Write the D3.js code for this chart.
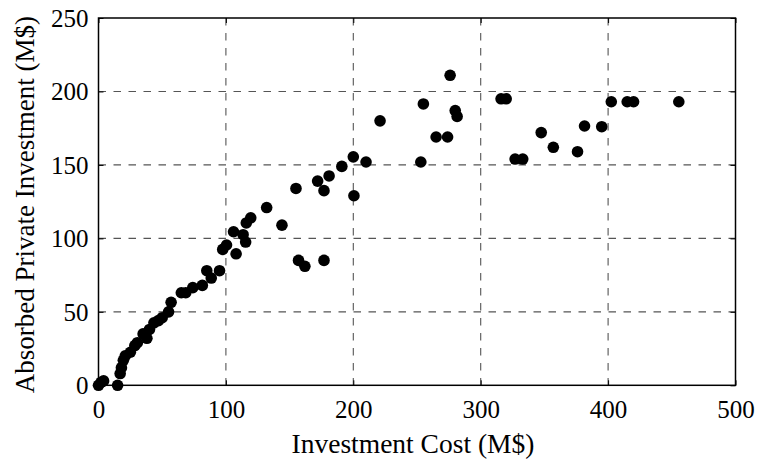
<!DOCTYPE html>
<html>
<head>
<meta charset="utf-8">
<script src="https://cdn.jsdelivr.net/npm/d3@7"></script>
<style>
  html, body { margin: 0; padding: 0; background: #fff; }
  svg { display: block; }
  text { font-family: "Liberation Serif", "Times New Roman", serif; fill: #000; }
</style>
</head>
<body>
<svg id="chart" width="760" height="464"></svg>
<script>
// Investment cost (M$) for each project
const investmentCost = [
  0, 2, 4, 15, 17, 18, 19.5, 21, 25, 28.5, 30.5, 35, 38, 40, 43.5, 47, 50, 55, 57,
  65, 68.5, 74, 81.5, 85, 88.5, 95, 97.5, 100.5, 106, 108, 113.5, 115.5, 116, 119.5,
  132, 144, 155, 157, 162, 177, 172, 177, 181, 191, 200, 200.5, 210, 221,
  253, 255, 265, 274, 276, 280, 281.5, 316, 320, 327, 333, 347.5, 357, 376, 381.5,
  395, 402.5, 415, 420, 455.5
];
// Absorbed private investment (M$) for the same projects
const absorbedInvestment = [
  0, 2, 3, 0, 8, 12, 17, 20, 22.5, 27, 29, 35, 32, 38, 42.5, 44, 46, 50, 56.5,
  63, 63, 66.5, 68, 78, 73, 78, 92.5, 95.5, 104.5, 89.5, 102.5, 97.5, 110.5, 114,
  121, 109, 134, 85, 81, 85, 139, 132.5, 142.5, 149, 155.5, 129, 152, 180,
  152, 191.5, 169, 169, 211, 187, 183, 195, 195, 154, 154, 172, 162, 159, 176.5,
  176, 193, 193, 193, 193
];
const xTicks = [0, 100, 200, 300, 400, 500];
const yTicks = [0, 50, 100, 150, 200, 250];
const xLabel = "Investment Cost (M$)";
const yLabel = "Absorbed Private Investment (M$)";

const points = investmentCost.map((c, i) => ({ x: c, y: absorbedInvestment[i] }));

const svg = d3.select("#chart");
const plot = { left: 98.5, right: 735.5, top: 18, bottom: 385.3 };

const x = d3.scaleLinear().domain([0, 500]).range([plot.left, plot.right]);
const y = d3.scaleLinear().domain([0, 250]).range([plot.bottom, plot.top]);

// Dashed grid
const grid = svg.append("g").attr("stroke", "#555").attr("stroke-width", 1.1)
  .attr("stroke-dasharray", "7.5,7.5").attr("fill", "none");
grid.selectAll("line.v").data(xTicks.filter(t => t > 0 && t < 500)).join("line")
  .attr("x1", d => x(d)).attr("x2", d => x(d))
  .attr("y1", plot.top).attr("y2", plot.bottom);
grid.selectAll("line.h").data(yTicks.filter(t => t > 0 && t < 250)).join("line")
  .attr("x1", plot.left).attr("x2", plot.right)
  .attr("y1", d => y(d)).attr("y2", d => y(d));

// Axes with inward ticks
const xAxis = svg.append("g").attr("transform", `translate(0,${plot.bottom})`)
  .call(d3.axisBottom(x).tickValues(xTicks).tickSize(-5).tickPadding(13.5).tickFormat(d3.format("d")));
const yAxis = svg.append("g").attr("transform", `translate(${plot.left},0)`)
  .call(d3.axisLeft(y).tickValues(yTicks).tickSize(-5).tickPadding(10).tickFormat(d3.format("d")));
svg.append("g").attr("transform", `translate(0,${plot.top})`)
  .call(d3.axisTop(x).tickValues(xTicks).tickSize(-5).tickFormat(""));
svg.append("g").attr("transform", `translate(${plot.right},0)`)
  .call(d3.axisRight(y).tickValues(yTicks).tickSize(-5).tickFormat(""));

svg.selectAll(".domain").remove();
svg.selectAll(".tick line").attr("stroke", "#000").attr("stroke-width", 1);
xAxis.selectAll("text").attr("font-size", 25).attr("font-family", "Liberation Serif").attr("dy", "0.75em");
yAxis.selectAll("text").attr("font-size", 25).attr("font-family", "Liberation Serif").attr("dy", "0.34em");

// Frame
svg.append("rect")
  .attr("x", plot.left).attr("y", plot.top)
  .attr("width", plot.right - plot.left).attr("height", plot.bottom - plot.top)
  .attr("fill", "none").attr("stroke", "#000").attr("stroke-width", 1.5);

// Scatter points
svg.append("g").selectAll("circle").data(points).join("circle")
  .attr("cx", d => x(d.x)).attr("cy", d => y(d.y))
  .attr("r", 5.8).attr("fill", "#000");

// Axis titles
svg.append("text")
  .attr("x", (plot.left + plot.right) / 2 - 4).attr("y", 453)
  .attr("text-anchor", "middle").attr("font-size", 27.5)
  .text(xLabel);
svg.append("text")
  .attr("transform", `translate(34,${(plot.top + plot.bottom) / 2 + 3}) rotate(-90)`)
  .attr("text-anchor", "middle").attr("font-size", 27)
  .text(yLabel);
</script>
</body>
</html>
